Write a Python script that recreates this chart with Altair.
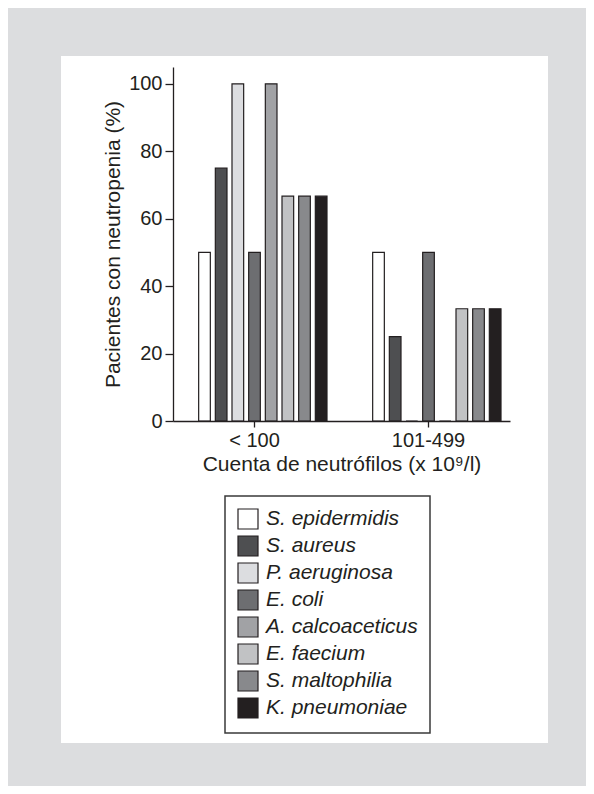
import altair as alt
import pandas as pd

# ---- data ----
groups = ["< 100", "101-499"]
species = ["S. epidermidis", "S. aureus", "P. aeruginosa", "E. coli",
           "A. calcoaceticus", "E. faecium", "S. maltophilia", "K. pneumoniae"]
vals_lt100 = [50, 75, 100, 50, 100, 66.7, 66.7, 66.7]
vals_101_499 = [50, 25, 0, 50, 0, 33.3, 33.3, 33.3]
colors = ["#ffffff", "#4e4f51", "#dcdde0", "#6d6e71",
          "#a1a2a5", "#c1c2c4", "#88898c", "#231f20"]
y_ticks = [0, 20, 40, 60, 80, 100]

rows = []
for g, vals in zip(groups, [vals_lt100, vals_101_499]):
    for s, v in zip(species, vals):
        rows.append({"grupo": g, "especie": s, "pct": v})
df = pd.DataFrame(rows)

offset_domain = [" "] + species  # leading empty slot

INK = "#231f20"
FONT = "Liberation Sans"
BG = "#dcdddf"

panel = alt.Chart(pd.DataFrame({"k": [0]})).mark_rect(color="white").encode(
    x=alt.value(-112), x2=alt.value(375), y=alt.value(-11), y2=alt.value(676)
)

bars = alt.Chart(df).mark_bar(stroke=INK, strokeWidth=1.2).encode(
    x=alt.X(
        "grupo:N", sort=groups,
        scale=alt.Scale(paddingInner=0.1667, paddingOuter=0.0517),
        axis=alt.Axis(title="Cuenta de neutrófilos (x 10⁹/l)", labelAngle=0,
                      tickSize=6, labelPadding=3, titlePadding=3, zindex=2),
    ),
    xOffset=alt.XOffset(
        "especie:N",
        scale=alt.Scale(domain=offset_domain, paddingInner=0.3, paddingOuter=0),
    ),
    y=alt.Y(
        "pct:Q",
        scale=alt.Scale(domain=[0, 105], nice=False),
        axis=alt.Axis(values=y_ticks, title="Pacientes con neutropenia (%)",
                      tickSize=8, labelPadding=3, titlePadding=5, zindex=2),
    ),
    color=alt.Color(
        "especie:N",
        scale=alt.Scale(domain=species, range=colors),
        legend=alt.Legend(
            title=None, orient="none", legendX=52, legendY=429,
            symbolType="square", symbolSize=400, symbolStrokeColor=INK,
            symbolStrokeWidth=1.2, symbolOpacity=1,
            labelFont=FONT, labelFontSize=21, labelFontStyle="italic",
            labelColor=INK, labelOffset=7, rowPadding=1, padding=12,
            strokeColor="#3a3a3a", zindex=2,
        ),
    ),
)

chart = alt.layer(panel, bars).properties(
    width=337, height=354,
    autosize=alt.AutoSizeParams(type="none"),
    padding={"left": 165, "top": 59, "right": 76, "bottom": 365},
    background=BG,
).configure_view(stroke=None).configure_axis(
    grid=False, domainColor=INK, domainWidth=1.3, tickColor=INK, tickWidth=1.3,
    labelColor=INK, titleColor=INK, labelFont=FONT, titleFont=FONT,
    labelFontSize=20, titleFontSize=21, titleFontWeight="normal",
).configure_legend(strokeWidth=1.5)

chart.save("out.html", embed_options={"renderer": "svg", "actions": False})
